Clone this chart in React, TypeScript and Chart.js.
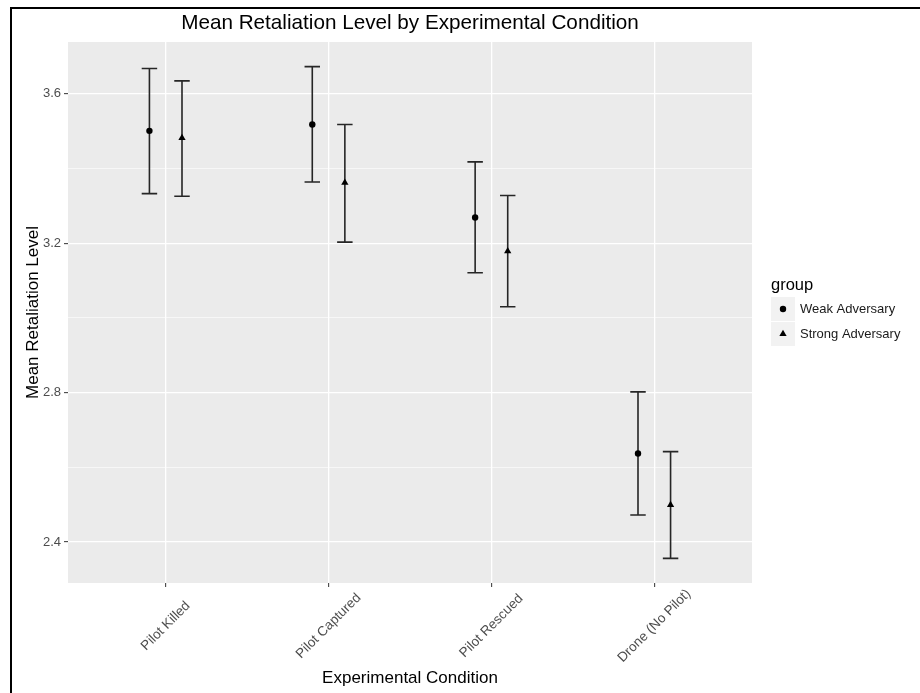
import React, { useEffect, useRef } from 'react';
import { Chart, registerables } from 'chart.js';

Chart.register(...registerables);

const categories = ['Pilot Killed', 'Pilot Captured', 'Pilot Rescued', 'Drone (No Pilot)'];
const groupNames = ['Weak Adversary', 'Strong Adversary'];

const weakMean = [3.501, 3.518, 3.269, 2.637];
const weakLow = [3.333, 3.364, 3.121, 2.472];
const weakHigh = [3.668, 3.673, 3.418, 2.802];

const strongMean = [3.482, 3.362, 3.179, 2.499];
const strongLow = [3.326, 3.203, 3.030, 2.356];
const strongHigh = [3.635, 3.518, 3.328, 2.642];

const yTickValues = [2.4, 2.6, 2.8, 3.0, 3.2, 3.4, 3.6];
const yTickLabels = ['2.4', '', '2.8', '', '3.2', '', '3.6'];
const xTickValues = [1, 2, 3, 4];

const TITLE = 'Mean Retaliation Level by Experimental Condition';
const X_TITLE = 'Experimental Condition';
const Y_TITLE = 'Mean Retaliation Level';
const LEGEND_TITLE = 'group';

const DODGE = 0.1;
const CAP = 0.095;
const Y_MIN = 2.29;
const Y_MAX = 3.739;

const FONT = '"Liberation Sans", Arial, Helvetica, sans-serif';

const series = [
  { name: groupNames[0], mean: weakMean, low: weakLow, high: weakHigh, offset: -DODGE, style: 'circle', radius: 3.2 },
  { name: groupNames[1], mean: strongMean, low: strongLow, high: strongHigh, offset: DODGE, style: 'triangle', radius: 4.2 },
];

function drawMarker(ctx: CanvasRenderingContext2D, style: string, x: number, y: number, r: number) {
  ctx.beginPath();
  if (style === 'circle') {
    ctx.arc(x, y, r, 0, Math.PI * 2);
  } else {
    ctx.moveTo(x, y - r);
    ctx.lineTo(x + r * Math.sin(Math.PI * 2 / 3), y + r * 0.5);
    ctx.lineTo(x - r * Math.sin(Math.PI * 2 / 3), y + r * 0.5);
    ctx.closePath();
  }
  ctx.fill();
}

const ggPlugin = {
  id: 'ggDecor',
  beforeDraw(chart: any) {
    const { ctx, chartArea: a } = chart;
    ctx.save();
    ctx.fillStyle = '#EBEBEB';
    ctx.fillRect(a.left, a.top, a.right - a.left, a.bottom - a.top);
    ctx.restore();
  },
  beforeDatasetsDraw(chart: any) {
    const { ctx } = chart;
    const xs = chart.scales.x;
    const ys = chart.scales.y;
    ctx.save();
    ctx.strokeStyle = '#262626';
    ctx.lineWidth = 1.6;
    series.forEach((s) => {
      s.low.forEach((lo, i) => {
        const xc = xTickValues[i] + s.offset;
        const px = xs.getPixelForValue(xc);
        const pl = xs.getPixelForValue(xc - CAP / 2);
        const pr = xs.getPixelForValue(xc + CAP / 2);
        const pLo = ys.getPixelForValue(lo);
        const pHi = ys.getPixelForValue(s.high[i]);
        ctx.beginPath();
        ctx.moveTo(px, pLo);
        ctx.lineTo(px, pHi);
        ctx.moveTo(pl, pLo);
        ctx.lineTo(pr, pLo);
        ctx.moveTo(pl, pHi);
        ctx.lineTo(pr, pHi);
        ctx.stroke();
      });
    });
    ctx.restore();
  },
  afterDraw(chart: any) {
    const { ctx, chartArea: a } = chart;
    const xs = chart.scales.x;
    const cx = (a.left + a.right) / 2;
    ctx.save();

    // x tick labels, rotated 45 degrees and centred under each tick
    ctx.fillStyle = '#4D4D4D';
    ctx.font = `13.5px ${FONT}`;
    ctx.textAlign = 'center';
    ctx.textBaseline = 'middle';
    xTickValues.forEach((v, i) => {
      ctx.save();
      ctx.translate(xs.getPixelForValue(v), 626);
      ctx.rotate(-Math.PI / 4);
      ctx.fillText(categories[i], 0, 0);
      ctx.restore();
    });

    ctx.fillStyle = '#000';
    ctx.font = `20.7px ${FONT}`;
    ctx.fillText(TITLE, cx, 23);
    ctx.font = `17px ${FONT}`;
    ctx.fillText(X_TITLE, cx, 678);
    ctx.save();
    ctx.translate(33, (a.top + a.bottom) / 2);
    ctx.rotate(-Math.PI / 2);
    ctx.fillText(Y_TITLE, 0, 0);
    ctx.restore();

    // legend
    const lx = 771;
    ctx.textAlign = 'left';
    ctx.font = `16.5px ${FONT}`;
    ctx.fillText(LEGEND_TITLE, lx, 285);
    ctx.font = `13px ${FONT}`;
    series.forEach((s, i) => {
      const top = 297 + i * 25;
      ctx.fillStyle = '#F2F2F2';
      ctx.fillRect(lx, top, 24, 24);
      ctx.fillStyle = '#000';
      drawMarker(ctx, s.style, lx + 12, top + 12, s.radius);
      ctx.fillStyle = '#1a1a1a';
      ctx.fillText(s.name, lx + 29, top + 12.5);
    });
    ctx.restore();
  },
};

export default function App() {
  const canvasRef = useRef<HTMLCanvasElement | null>(null);

  useEffect(() => {
    const canvas = canvasRef.current;
    if (!canvas) return;
    const datasets = series.map((s) => ({
      label: s.name,
      data: s.mean.map((m, i) => ({ x: xTickValues[i] + s.offset, y: m })),
      pointStyle: s.style,
      pointRadius: s.radius,
      pointHoverRadius: s.radius,
      backgroundColor: '#000',
      borderColor: '#000',
      borderWidth: 0,
      showLine: false,
    }));

    const chart = new Chart(canvas, {
      type: 'scatter',
      data: { datasets },
      plugins: [ggPlugin],
      options: {
        animation: false,
        responsive: false,
        devicePixelRatio: 1,
        layout: { padding: { top: 42, right: 168, left: 0, bottom: 0 } },
        plugins: {
          legend: { display: false },
          title: { display: false },
          tooltip: { enabled: false },
        },
        scales: {
          x: {
            type: 'linear',
            min: 0.4,
            max: 4.6,
            afterBuildTicks: (scale: any) => {
              scale.ticks = xTickValues.map((v) => ({ value: v }));
            },
            afterFit: (scale: any) => {
              scale.height = 110;
            },
            border: { display: false },
            grid: {
              color: '#FFFFFF',
              lineWidth: 1.3,
              drawTicks: true,
              tickLength: 4,
              tickColor: '#333333',
              tickWidth: 1,
            },
            ticks: {
              display: false,
            },
          },
          y: {
            type: 'linear',
            min: Y_MIN,
            max: Y_MAX,
            afterBuildTicks: (scale: any) => {
              scale.ticks = yTickValues.map((v) => ({ value: v }));
            },
            afterFit: (scale: any) => {
              scale.width = 68;
            },
            border: { display: false },
            grid: {
              color: '#FFFFFF',
              lineWidth: (c: any) => (yTickLabels[c.index] ? 1.3 : 0.6),
              drawTicks: true,
              tickLength: 4,
              tickColor: (c: any) => (yTickLabels[c.index] ? '#333333' : 'rgba(0,0,0,0)'),
              tickWidth: 1,
            },
            ticks: {
              padding: 3,
              color: '#4D4D4D',
              font: { family: FONT, size: 13 },
              callback: (_v: any, i: number) => yTickLabels[i],
            },
          },
        },
      },
    });
    return () => chart.destroy();
  }, []);

  return (
    <div style={{ position: 'absolute', left: 0, top: 0, width: 920, height: 693, background: '#fff', overflow: 'hidden' }}>
      <canvas ref={canvasRef} width={920} height={693} style={{ position: 'absolute', left: 0, top: 0, width: 920, height: 693 }} />
      <div style={{ position: 'absolute', left: 10, top: 7, width: 910, height: 2, background: '#000' }} />
      <div style={{ position: 'absolute', left: 10, top: 7, width: 2, height: 686, background: '#000' }} />
    </div>
  );
}
